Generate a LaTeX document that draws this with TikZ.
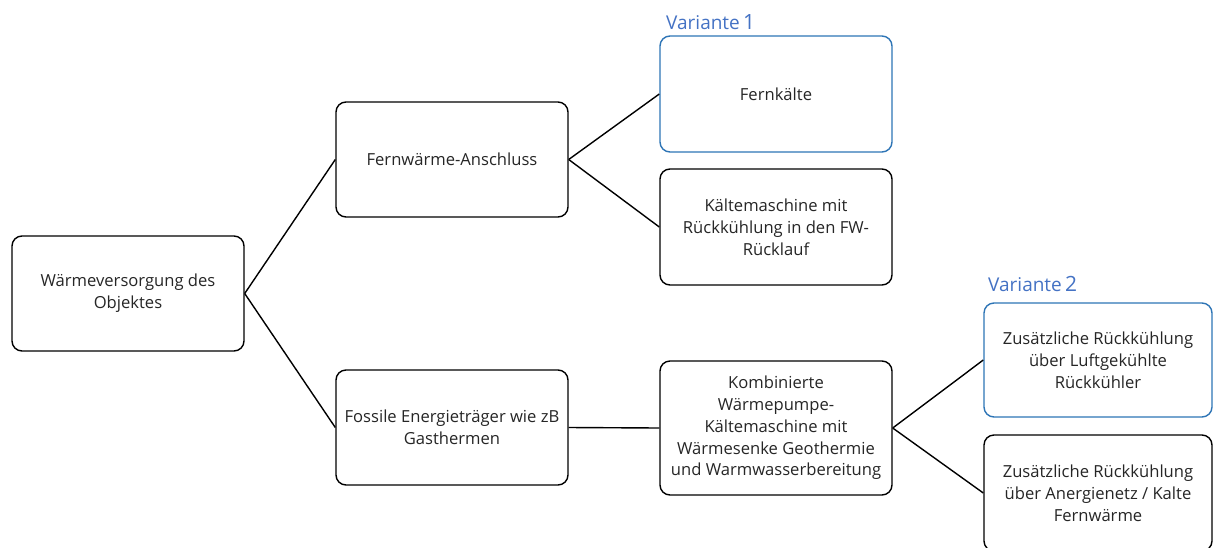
\documentclass[tikz,border=0pt]{standalone}
\usepackage{fontspec}
\setmainfont{Open Sans}
\definecolor{txt}{HTML}{262626}
\definecolor{bordblue}{HTML}{2E75B6}
\definecolor{varblue}{HTML}{4472C4}
\begin{document}
\begin{tikzpicture}[x=1pt,y=-1pt,
  box/.style={draw=black, line width=1.4pt, rounded corners=10pt, fill=white,
    minimum width=232pt, minimum height=115pt, align=center, text=txt,
    font=\fontsize{16.6}{21.8}\selectfont, inner sep=2pt},
  bluebox/.style={box, draw=bordblue},
  conn/.style={line width=1.4pt, black},
  varlabel/.style={text=varblue, anchor=base west, inner sep=0pt, font=\fontsize{19}{22}\selectfont}
]
\clip (0,0) rectangle (1213,547);
\fill[white] (0,0) rectangle (1213,547);

\node[box] (A) at (128,293.5) {Wärmeversorgung des\\Objektes};
\node[box] (B) at (452,159.5) {Fernwärme-Anschluss};
\node[box] (C) at (452,427.5) {Fossile Energieträger wie zB\\Gasthermen};
\node[bluebox, minimum height=116pt] (D) at (776,94) {Fernkälte};
\node[box, minimum height=116pt] (E) at (776,227) {Kältemaschine mit\\Rückkühlung in den FW-\\Rücklauf};
\node[box, minimum height=134pt] (F) at (776,428) {Kombinierte\\Wärmepumpe-\\Kältemaschine mit\\Wärmesenke Geothermie\\und Warmwasserbereitung};
\node[bluebox, minimum width=228pt, minimum height=114pt] (G) at (1098,360) {Zusätzliche Rückkühlung\\über Luftgekühlte\\Rückkühler};
\node[box, minimum width=228pt, minimum height=116pt] (H) at (1098,493) {Zusätzliche Rückkühlung\\über Anergienetz / Kalte\\Fernwärme};

\draw[conn] (A.east) -- (B.west);
\draw[conn] (A.east) -- (C.west);
\draw[conn] (B.east) -- (D.west);
\draw[conn] (B.east) -- (E.west);
\draw[conn] (C.east) -- (F.west);
\draw[conn] (F.east) -- (G.west);
\draw[conn] (F.east) -- (H.west);

\node[varlabel] (V1) at (666,29) {Variante\,{\fontsize{21}{22}\selectfont 1}};
\node[varlabel] (V2) at (988,291) {Variante\,{\fontsize{21}{22}\selectfont 2}};
\end{tikzpicture}
\end{document}
